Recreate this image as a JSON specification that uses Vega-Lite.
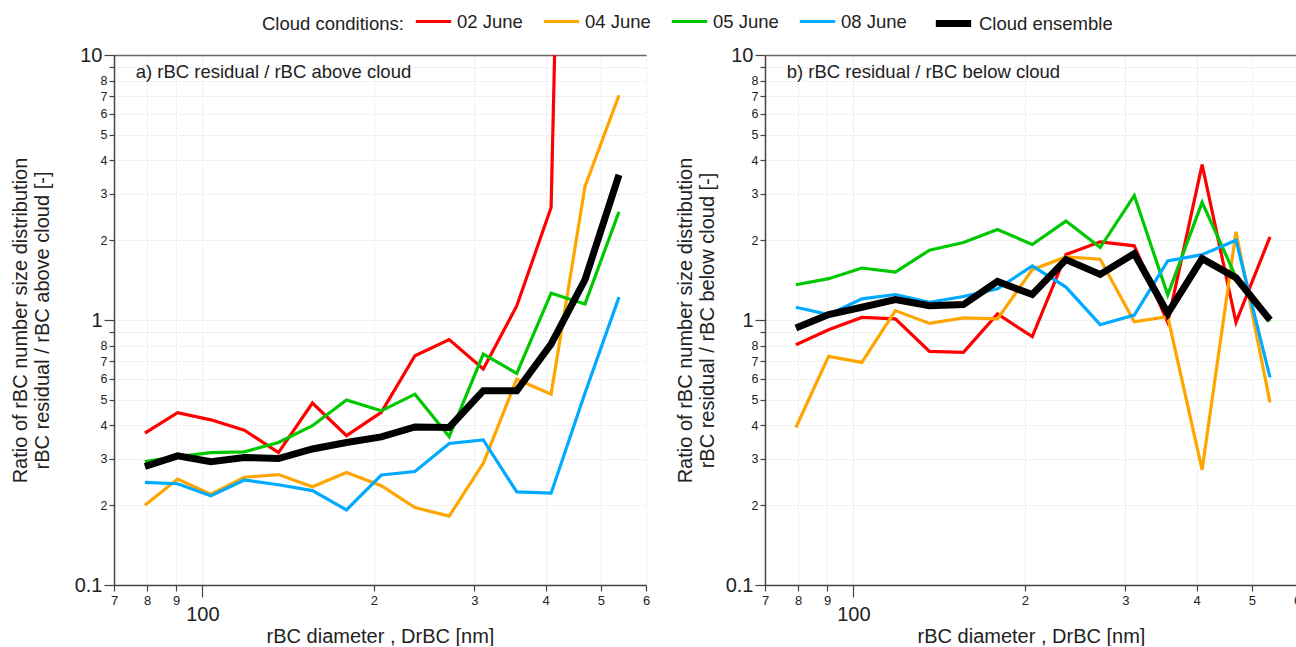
{
  "$schema": "https://vega.github.io/schema/vega-lite/v6.json",
  "background": "white",
  "padding": {"left": 10, "top": 2, "right": 0, "bottom": 0},
  "config": {
    "font": "Liberation Sans",
    "view": {"stroke": null},
    "axis": {
      "domainColor": "#444", "domainWidth": 1.5, "tickColor": "#444", "tickWidth": 1.2,
      "labelColor": "#222", "titleColor": "#222", "titleFontWeight": "normal", "titleFontSize": 20,
      "labelFlush": false, "labelOverlap": false, "grid": true, "gridWidth": 1
    },
    "legend": {
      "orient": "none", "legendX": 148, "legendY": -53, "direction": "horizontal", "gridAlign": "none",
      "titleOrient": "left", "titleAnchor": "middle", "titleBaseline": "line-top", "titleLineHeight": 10, "titleFontSize": 18.5, "titleFontWeight": "normal", "titleColor": "#222", "titlePadding": 10,
      "labelFontSize": 18.5, "labelColor": "#222", "symbolType": "stroke", "symbolSize": 1250, "columnPadding": 14, "labelOffset": 4
    }
  },
  "datasets": {
    "d": [
      {"panel":"a","series":"02 June","diameter":79.3,"ratio":0.374},
      {"panel":"a","series":"02 June","diameter":90.5,"ratio":0.447},
      {"panel":"a","series":"02 June","diameter":103.5,"ratio":0.420},
      {"panel":"a","series":"02 June","diameter":118.5,"ratio":0.384},
      {"panel":"a","series":"02 June","diameter":136,"ratio":0.316},
      {"panel":"a","series":"02 June","diameter":156,"ratio":0.486},
      {"panel":"a","series":"02 June","diameter":179,"ratio":0.366},
      {"panel":"a","series":"02 June","diameter":206,"ratio":0.448},
      {"panel":"a","series":"02 June","diameter":236,"ratio":0.733},
      {"panel":"a","series":"02 June","diameter":271,"ratio":0.843},
      {"panel":"a","series":"02 June","diameter":311,"ratio":0.653},
      {"panel":"a","series":"02 June","diameter":356,"ratio":1.13},
      {"panel":"a","series":"02 June","diameter":409,"ratio":2.66},
      {"panel":"a","series":"02 June","diameter":469,"ratio":1000000},
      {"panel":"a","series":"04 June","diameter":79.3,"ratio":0.200},
      {"panel":"a","series":"04 June","diameter":90.5,"ratio":0.251},
      {"panel":"a","series":"04 June","diameter":103.5,"ratio":0.220},
      {"panel":"a","series":"04 June","diameter":118.5,"ratio":0.255},
      {"panel":"a","series":"04 June","diameter":136,"ratio":0.261},
      {"panel":"a","series":"04 June","diameter":156,"ratio":0.235},
      {"panel":"a","series":"04 June","diameter":179,"ratio":0.266},
      {"panel":"a","series":"04 June","diameter":206,"ratio":0.237},
      {"panel":"a","series":"04 June","diameter":236,"ratio":0.196},
      {"panel":"a","series":"04 June","diameter":271,"ratio":0.182},
      {"panel":"a","series":"04 June","diameter":311,"ratio":0.288},
      {"panel":"a","series":"04 June","diameter":356,"ratio":0.598},
      {"panel":"a","series":"04 June","diameter":409,"ratio":0.525},
      {"panel":"a","series":"04 June","diameter":469,"ratio":3.19},
      {"panel":"a","series":"04 June","diameter":538,"ratio":7.05},
      {"panel":"a","series":"05 June","diameter":79.3,"ratio":0.292},
      {"panel":"a","series":"05 June","diameter":90.5,"ratio":0.305},
      {"panel":"a","series":"05 June","diameter":103.5,"ratio":0.316},
      {"panel":"a","series":"05 June","diameter":118.5,"ratio":0.318},
      {"panel":"a","series":"05 June","diameter":136,"ratio":0.345},
      {"panel":"a","series":"05 June","diameter":156,"ratio":0.399},
      {"panel":"a","series":"05 June","diameter":179,"ratio":0.499},
      {"panel":"a","series":"05 June","diameter":206,"ratio":0.454},
      {"panel":"a","series":"05 June","diameter":236,"ratio":0.525},
      {"panel":"a","series":"05 June","diameter":271,"ratio":0.363},
      {"panel":"a","series":"05 June","diameter":311,"ratio":0.744},
      {"panel":"a","series":"05 June","diameter":356,"ratio":0.629},
      {"panel":"a","series":"05 June","diameter":409,"ratio":1.262},
      {"panel":"a","series":"05 June","diameter":469,"ratio":1.15},
      {"panel":"a","series":"05 June","diameter":538,"ratio":2.56},
      {"panel":"a","series":"08 June","diameter":79.3,"ratio":0.244},
      {"panel":"a","series":"08 June","diameter":90.5,"ratio":0.241},
      {"panel":"a","series":"08 June","diameter":103.5,"ratio":0.217},
      {"panel":"a","series":"08 June","diameter":118.5,"ratio":0.249},
      {"panel":"a","series":"08 June","diameter":136,"ratio":0.239},
      {"panel":"a","series":"08 June","diameter":156,"ratio":0.227},
      {"panel":"a","series":"08 June","diameter":179,"ratio":0.192},
      {"panel":"a","series":"08 June","diameter":206,"ratio":0.260},
      {"panel":"a","series":"08 June","diameter":236,"ratio":0.268},
      {"panel":"a","series":"08 June","diameter":271,"ratio":0.342},
      {"panel":"a","series":"08 June","diameter":311,"ratio":0.353},
      {"panel":"a","series":"08 June","diameter":356,"ratio":0.2245},
      {"panel":"a","series":"08 June","diameter":409,"ratio":0.222},
      {"panel":"a","series":"08 June","diameter":469,"ratio":0.53},
      {"panel":"a","series":"08 June","diameter":538,"ratio":1.22},
      {"panel":"a","series":"Cloud ensemble","diameter":79.3,"ratio":0.280},
      {"panel":"a","series":"Cloud ensemble","diameter":90.5,"ratio":0.307},
      {"panel":"a","series":"Cloud ensemble","diameter":103.5,"ratio":0.292},
      {"panel":"a","series":"Cloud ensemble","diameter":118.5,"ratio":0.303},
      {"panel":"a","series":"Cloud ensemble","diameter":136,"ratio":0.300},
      {"panel":"a","series":"Cloud ensemble","diameter":156,"ratio":0.326},
      {"panel":"a","series":"Cloud ensemble","diameter":179,"ratio":0.345},
      {"panel":"a","series":"Cloud ensemble","diameter":206,"ratio":0.362},
      {"panel":"a","series":"Cloud ensemble","diameter":236,"ratio":0.395},
      {"panel":"a","series":"Cloud ensemble","diameter":271,"ratio":0.393},
      {"panel":"a","series":"Cloud ensemble","diameter":311,"ratio":0.541},
      {"panel":"a","series":"Cloud ensemble","diameter":356,"ratio":0.541},
      {"panel":"a","series":"Cloud ensemble","diameter":409,"ratio":0.811},
      {"panel":"a","series":"Cloud ensemble","diameter":469,"ratio":1.42},
      {"panel":"a","series":"Cloud ensemble","diameter":538,"ratio":3.53},
      {"panel":"b","series":"02 June","diameter":79.3,"ratio":0.807},
      {"panel":"b","series":"02 June","diameter":90.5,"ratio":0.919},
      {"panel":"b","series":"02 June","diameter":103.5,"ratio":1.023},
      {"panel":"b","series":"02 June","diameter":118.5,"ratio":1.01},
      {"panel":"b","series":"02 June","diameter":136,"ratio":0.761},
      {"panel":"b","series":"02 June","diameter":156,"ratio":0.755},
      {"panel":"b","series":"02 June","diameter":179,"ratio":1.054},
      {"panel":"b","series":"02 June","diameter":206,"ratio":0.865},
      {"panel":"b","series":"02 June","diameter":236,"ratio":1.765},
      {"panel":"b","series":"02 June","diameter":271,"ratio":1.972},
      {"panel":"b","series":"02 June","diameter":311,"ratio":1.905},
      {"panel":"b","series":"02 June","diameter":356,"ratio":0.98},
      {"panel":"b","series":"02 June","diameter":409,"ratio":3.855},
      {"panel":"b","series":"02 June","diameter":469,"ratio":0.98},
      {"panel":"b","series":"02 June","diameter":538,"ratio":2.06},
      {"panel":"b","series":"04 June","diameter":79.3,"ratio":0.393},
      {"panel":"b","series":"04 June","diameter":90.5,"ratio":0.729},
      {"panel":"b","series":"04 June","diameter":103.5,"ratio":0.692},
      {"panel":"b","series":"04 June","diameter":118.5,"ratio":1.085},
      {"panel":"b","series":"04 June","diameter":136,"ratio":0.971},
      {"panel":"b","series":"04 June","diameter":156,"ratio":1.018},
      {"panel":"b","series":"04 June","diameter":179,"ratio":1.009},
      {"panel":"b","series":"04 June","diameter":206,"ratio":1.549},
      {"panel":"b","series":"04 June","diameter":236,"ratio":1.73},
      {"panel":"b","series":"04 June","diameter":271,"ratio":1.695},
      {"panel":"b","series":"04 June","diameter":311,"ratio":0.985},
      {"panel":"b","series":"04 June","diameter":356,"ratio":1.03},
      {"panel":"b","series":"04 June","diameter":409,"ratio":0.272},
      {"panel":"b","series":"04 June","diameter":469,"ratio":2.15},
      {"panel":"b","series":"04 June","diameter":538,"ratio":0.489},
      {"panel":"b","series":"05 June","diameter":79.3,"ratio":1.358},
      {"panel":"b","series":"05 June","diameter":90.5,"ratio":1.432},
      {"panel":"b","series":"05 June","diameter":103.5,"ratio":1.571},
      {"panel":"b","series":"05 June","diameter":118.5,"ratio":1.517},
      {"panel":"b","series":"05 June","diameter":136,"ratio":1.834},
      {"panel":"b","series":"05 June","diameter":156,"ratio":1.96},
      {"panel":"b","series":"05 June","diameter":179,"ratio":2.197},
      {"panel":"b","series":"05 June","diameter":206,"ratio":1.927},
      {"panel":"b","series":"05 June","diameter":236,"ratio":2.362},
      {"panel":"b","series":"05 June","diameter":271,"ratio":1.877},
      {"panel":"b","series":"05 June","diameter":311,"ratio":2.949},
      {"panel":"b","series":"05 June","diameter":356,"ratio":1.244},
      {"panel":"b","series":"05 June","diameter":409,"ratio":2.78},
      {"panel":"b","series":"05 June","diameter":469,"ratio":1.45},
      {"panel":"b","series":"05 June","diameter":538,"ratio":0.99},
      {"panel":"b","series":"08 June","diameter":79.3,"ratio":1.117},
      {"panel":"b","series":"08 June","diameter":90.5,"ratio":1.048},
      {"panel":"b","series":"08 June","diameter":103.5,"ratio":1.201},
      {"panel":"b","series":"08 June","diameter":118.5,"ratio":1.248},
      {"panel":"b","series":"08 June","diameter":136,"ratio":1.167},
      {"panel":"b","series":"08 June","diameter":156,"ratio":1.226},
      {"panel":"b","series":"08 June","diameter":179,"ratio":1.311},
      {"panel":"b","series":"08 June","diameter":206,"ratio":1.599},
      {"panel":"b","series":"08 June","diameter":236,"ratio":1.331},
      {"panel":"b","series":"08 June","diameter":271,"ratio":0.96},
      {"panel":"b","series":"08 June","diameter":311,"ratio":1.044},
      {"panel":"b","series":"08 June","diameter":356,"ratio":1.67},
      {"panel":"b","series":"08 June","diameter":409,"ratio":1.765},
      {"panel":"b","series":"08 June","diameter":469,"ratio":2.0},
      {"panel":"b","series":"08 June","diameter":538,"ratio":0.607},
      {"panel":"b","series":"Cloud ensemble","diameter":79.3,"ratio":0.932},
      {"panel":"b","series":"Cloud ensemble","diameter":90.5,"ratio":1.048},
      {"panel":"b","series":"Cloud ensemble","diameter":103.5,"ratio":1.117},
      {"panel":"b","series":"Cloud ensemble","diameter":118.5,"ratio":1.194},
      {"panel":"b","series":"Cloud ensemble","diameter":136,"ratio":1.133},
      {"panel":"b","series":"Cloud ensemble","diameter":156,"ratio":1.143},
      {"panel":"b","series":"Cloud ensemble","diameter":179,"ratio":1.398},
      {"panel":"b","series":"Cloud ensemble","diameter":206,"ratio":1.248},
      {"panel":"b","series":"Cloud ensemble","diameter":236,"ratio":1.69},
      {"panel":"b","series":"Cloud ensemble","diameter":271,"ratio":1.486},
      {"panel":"b","series":"Cloud ensemble","diameter":311,"ratio":1.781},
      {"panel":"b","series":"Cloud ensemble","diameter":356,"ratio":1.06},
      {"panel":"b","series":"Cloud ensemble","diameter":409,"ratio":1.705},
      {"panel":"b","series":"Cloud ensemble","diameter":469,"ratio":1.444},
      {"panel":"b","series":"Cloud ensemble","diameter":538,"ratio":1.0}
    ]
  },
  "spacing": 25,
  "resolve": {"legend": {"color": "shared", "strokeWidth": "shared"}},
  "hconcat": [
    {
      "width": 532, "height": 530,
      "layer": [
        {
          "data": {"name": "d"},
          "transform": [{"filter": "datum.panel == 'a'"}],
          "mark": {"type": "line", "clip": true},
          "encoding": {
            "x": {"field": "diameter", "type": "quantitative",
              "scale": {"type": "log", "domain": [70, 600], "nice": false},
              "axis": {
                "values": [70, 80, 90, 100, 200, 300, 400, 500, 600],
                "labelExpr": "datum.value == 100 ? '100' : (datum.value > 100 ? format(datum.value / 100, 'd') : format(datum.value / 10, 'd'))",
                "labelFontSize": {"condition": {"test": "datum.value == 100", "value": 20}, "value": 13},
                "labelPadding": {"condition": {"test": "datum.value == 100", "value": 7}, "value": 3},
                "tickSize": {"condition": {"test": "datum.value == 100", "value": 12}, "value": 6},
                "gridColor": "#e4e4e4", "gridDash": [2, 2],
                "title": "rBC diameter , DrBC [nm]", "titlePadding": 2
              }},
            "y": {"field": "ratio", "type": "quantitative",
              "scale": {"type": "log", "domain": [0.1, 10], "nice": false},
              "axis": {
                "values": [0.1, 0.2, 0.3, 0.4, 0.5, 0.6, 0.7, 0.8, 0.9, 1, 2, 3, 4, 5, 6, 7, 8, 9, 10],
                "labelExpr": "datum.value == 10 ? '10' : datum.value == 1 ? '1' : datum.value == 0.1 ? '0.1' : (datum.value == 9 || datum.value == 0.9) ? '' : datum.value > 1 ? format(datum.value, 'd') : format(datum.value * 10, '.0f')",
                "labelFontSize": {"condition": {"test": "datum.value == 10 || datum.value == 1 || datum.value == 0.1", "value": 20}, "value": 12.5},
                "tickSize": {"condition": {"test": "datum.value == 10 || datum.value == 1 || datum.value == 0.1", "value": 10}, "value": 5},
                "labelPadding": 2,
                "gridColor": {"condition": {"test": "datum.value == 10", "value": "#666"}, "value": "#e4e4e4"},
                "gridDash": {"condition": {"test": "datum.value == 10", "value": []}, "value": [2, 2]},
                "gridWidth": {"condition": {"test": "datum.value == 10", "value": 1.5}, "value": 1},
                "title": ["Ratio of rBC number size distribution", "rBC residual / rBC above cloud [-]"],
                "titleLineHeight": 22, "titlePadding": 22
              }},
            "color": {"field": "series", "type": "nominal", "title": "Cloud conditions:",
              "scale": {"domain": ["02 June", "04 June", "05 June", "08 June", "Cloud ensemble"], "range": ["#ff0000", "#ffa500", "#00c800", "#00aaff", "#000000"]}},
            "strokeWidth": {"field": "series", "type": "nominal", "title": "Cloud conditions:",
              "scale": {"type": "ordinal", "domain": ["02 June", "04 June", "05 June", "08 June", "Cloud ensemble"], "range": [3.2, 3.2, 3.2, 3.2, 7]}}
          }
        },
        {
          "data": {"values": [{"label": "a) rBC residual / rBC above cloud"}]},
          "mark": {"type": "text", "align": "left", "baseline": "middle", "fontSize": 18.5, "color": "#222"},
          "encoding": {
            "x": {"datum": 76.4, "type": "quantitative"},
            "y": {"datum": 8.6, "type": "quantitative"},
            "text": {"field": "label"}
          }
        }
      ]
    },
    {
      "width": 532, "height": 530,
      "layer": [
        {
          "data": {"name": "d"},
          "transform": [{"filter": "datum.panel == 'b'"}],
          "mark": {"type": "line", "clip": true},
          "encoding": {
            "x": {"field": "diameter", "type": "quantitative",
              "scale": {"type": "log", "domain": [70, 600], "nice": false},
              "axis": {
                "values": [70, 80, 90, 100, 200, 300, 400, 500, 600],
                "labelExpr": "datum.value == 100 ? '100' : (datum.value > 100 ? format(datum.value / 100, 'd') : format(datum.value / 10, 'd'))",
                "labelFontSize": {"condition": {"test": "datum.value == 100", "value": 20}, "value": 13},
                "labelPadding": {"condition": {"test": "datum.value == 100", "value": 7}, "value": 3},
                "tickSize": {"condition": {"test": "datum.value == 100", "value": 12}, "value": 6},
                "gridColor": "#e4e4e4", "gridDash": [2, 2],
                "title": "rBC diameter , DrBC [nm]", "titlePadding": 2
              }},
            "y": {"field": "ratio", "type": "quantitative",
              "scale": {"type": "log", "domain": [0.1, 10], "nice": false},
              "axis": {
                "values": [0.1, 0.2, 0.3, 0.4, 0.5, 0.6, 0.7, 0.8, 0.9, 1, 2, 3, 4, 5, 6, 7, 8, 9, 10],
                "labelExpr": "datum.value == 10 ? '10' : datum.value == 1 ? '1' : datum.value == 0.1 ? '0.1' : (datum.value == 9 || datum.value == 0.9) ? '' : datum.value > 1 ? format(datum.value, 'd') : format(datum.value * 10, '.0f')",
                "labelFontSize": {"condition": {"test": "datum.value == 10 || datum.value == 1 || datum.value == 0.1", "value": 20}, "value": 12.5},
                "tickSize": {"condition": {"test": "datum.value == 10 || datum.value == 1 || datum.value == 0.1", "value": 10}, "value": 5},
                "labelPadding": 2,
                "gridColor": {"condition": {"test": "datum.value == 10", "value": "#666"}, "value": "#e4e4e4"},
                "gridDash": {"condition": {"test": "datum.value == 10", "value": []}, "value": [2, 2]},
                "gridWidth": {"condition": {"test": "datum.value == 10", "value": 1.5}, "value": 1},
                "title": ["Ratio of rBC number size distribution", "rBC residual / rBC below cloud [-]"],
                "titleLineHeight": 22, "titlePadding": 8
              }},
            "color": {"field": "series", "type": "nominal", "title": "Cloud conditions:",
              "scale": {"domain": ["02 June", "04 June", "05 June", "08 June", "Cloud ensemble"], "range": ["#ff0000", "#ffa500", "#00c800", "#00aaff", "#000000"]}},
            "strokeWidth": {"field": "series", "type": "nominal", "title": "Cloud conditions:",
              "scale": {"type": "ordinal", "domain": ["02 June", "04 June", "05 June", "08 June", "Cloud ensemble"], "range": [3.2, 3.2, 3.2, 3.2, 7]}}
          }
        },
        {
          "data": {"values": [{"label": "b) rBC residual / rBC below cloud"}]},
          "mark": {"type": "text", "align": "left", "baseline": "middle", "fontSize": 18.5, "color": "#222"},
          "encoding": {
            "x": {"datum": 76.4, "type": "quantitative"},
            "y": {"datum": 8.6, "type": "quantitative"},
            "text": {"field": "label"}
          }
        }
      ]
    }
  ]
}
